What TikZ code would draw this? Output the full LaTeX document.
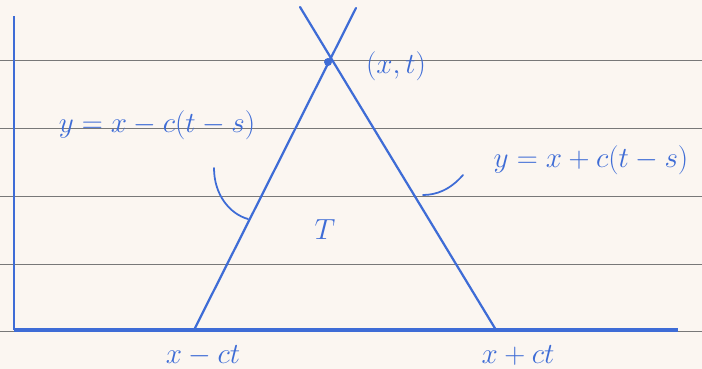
\documentclass[tikz,border=0pt]{standalone}
\usepackage{amsmath}
\usepackage{xcolor}
\usetikzlibrary{positioning,calc}
\definecolor{ink}{RGB}{62,108,214}
\definecolor{paper}{RGB}{251,246,241}
\definecolor{ruling}{RGB}{120,120,120}

\begin{document}
\begin{tikzpicture}[
    x=0.03cm, y=-0.03cm,
    pen/.style  = {draw=ink, line width=1.9pt, line cap=round},
    ax/.style   = {draw=ink, line width=2.8pt},
    rule/.style = {draw=ruling, line width=0.7pt},
    lbl/.style  = {text=ink, font=\fontsize{25}{30}\selectfont, inner sep=0pt},
    pt/.style   = {circle, fill=ink, inner sep=2.4pt},
]

%======== paper with ruled lines ========
\fill[paper] (0,0) rectangle (702,369);
\useasboundingbox (0,0) rectangle (702,369);
\foreach \y in {60,128,196,264,331} \draw[rule] (0,\y) -- (702,\y);

%======== axes ========
\coordinate (o) at (14,330);
\coordinate (ytop) at (14,16);
\coordinate (xend) at (678,330);
\draw[ax, line width=2.2pt] (o) -- (ytop);
\draw[ax] (o) -- (xend);

%======== characteristic triangle ========
\coordinate (a) at (194,330);
\coordinate (b) at (496,330);
\node[pt] (apex) at (328,62) {};
\coordinate (atop) at (356,8);
\coordinate (btop) at (300,7);
\draw[pen] (a) -- (atop);
\draw[pen] (b) -- (btop);

% --- labels
\node[lbl] (xt)  at (396,66)  {$(x,t)$};
\node[lbl] (lhs) at (157,125) {$y=x-c(t-s)$};
\node[lbl] (rhs) at (591,160) {$y=x+c(t-s)$};
\node[lbl] (tri) at (325,230) {$T$};
\node[lbl] (xl)  at (203,356) {$x-ct$};
\node[lbl] (xr)  at (518,355) {$x+ct$};

% --- pointers from the equations to their lines
\coordinate (lp) at (214,168);
\coordinate (lq) at (248,219);
\coordinate (rp) at (463,175);
\coordinate (rq) at (423,195);
\draw[pen, line width=1.5pt] (lp) .. controls (214,195) and (230,214) .. (lq);
\draw[pen, line width=1.5pt] (rp) .. controls (450,190) and (436,195) .. (rq);

\end{tikzpicture}
\end{document}
